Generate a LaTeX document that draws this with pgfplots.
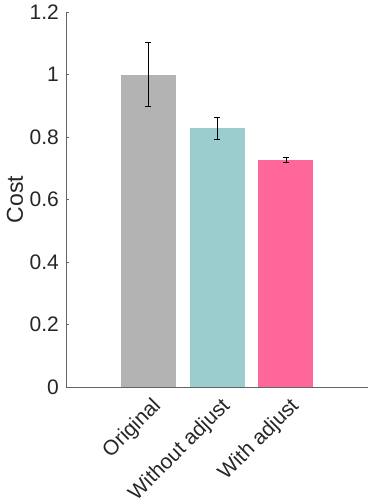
\documentclass[border=0pt]{standalone}
\usepackage{pgfplots}
\pgfplotsset{compat=1.18}
\usepackage{fontspec}
\setmainfont{Liberation Sans}
\definecolor{cgray}{RGB}{179,179,179}
\definecolor{cteal}{RGB}{156,205,206}
\definecolor{cpink}{RGB}{255,102,153}
\definecolor{axcol}{RGB}{100,100,100}
\begin{document}
\begin{tikzpicture}
\begin{axis}[
  scale only axis,
  width=302pt, height=375pt,
  xmin=-1.19, xmax=3.19,
  ymin=0, ymax=1.2,
  ytick={0,0.2,0.4,0.6,0.8,1,1.2},
  yticklabels={0,0.2,0.4,0.6,0.8,1,1.2},
  xtick={0,1,2},
  xticklabels={Original,Without adjust,With adjust},
  x tick label style={xshift=10pt, yshift=-16pt, rotate=45, anchor=east, inner sep=0pt},
  y tick label style={inner sep=0pt, xshift=-7pt},
  tick label style={font=\fontsize{21}{21}\selectfont, text=black!85},
  ylabel={Cost},
  ylabel style={font=\fontsize{23}{23}\selectfont, text=black!85, at={(axis description cs:0,0.5)}, anchor=center, yshift=51pt},
  axis x line*=bottom, axis y line*=left,
  axis line style={axcol, line width=0.6pt},
  tick style={axcol, line width=0.5pt},
  major tick length=3pt,
  tick align=inside,
  /pgf/number format/assume math mode=true,
  clip=false,
]
\addplot[ybar, bar width=55pt, fill=cgray, draw=none] coordinates {(0,1.0)};
\addplot[ybar, bar width=55pt, fill=cteal, draw=none] coordinates {(1,0.828)};
\addplot[ybar, bar width=55pt, fill=cpink, draw=none] coordinates {(2,0.726)};
\addplot[draw=none, mark=none,
  error bars/.cd, y dir=both, y explicit,
  error bar style={line width=0.9pt, black},
  error mark options={rotate=90, mark size=3pt, line width=0.9pt, black}]
  coordinates {
    (0,1.0) +- (0,0.1035)
    (1,0.828) +- (0,0.035)
    (2,0.726) +- (0,0.0085)
  };
\end{axis}
\pgfresetboundingbox
\useasboundingbox ([xshift=-66pt,yshift=-117pt]current axis.south west) rectangle ([xshift=6pt,yshift=12pt]current axis.north east);
\end{tikzpicture}
\end{document}
